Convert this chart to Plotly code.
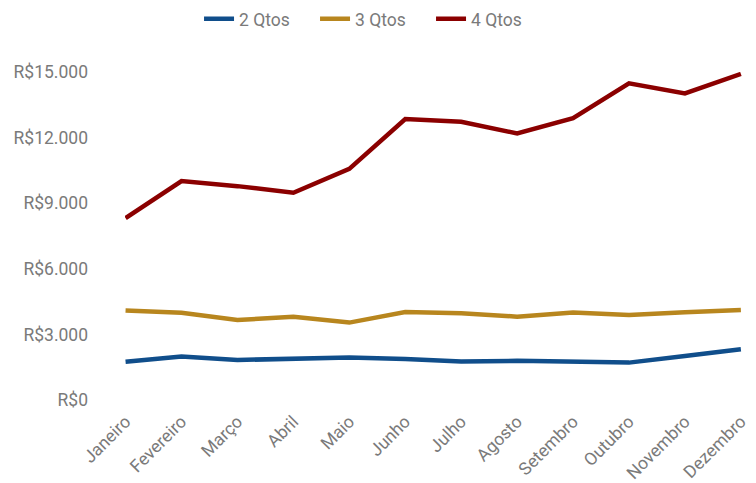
import plotly.graph_objects as go

meses = ["Janeiro", "Fevereiro", "Março", "Abril", "Maio", "Junho", "Julho",
         "Agosto", "Setembro", "Outubro", "Novembro", "Dezembro"]
qtos2 = [1750, 1990, 1830, 1890, 1940, 1870, 1760, 1790, 1760, 1710, 2010, 2320]
qtos3 = [4090, 3990, 3660, 3810, 3540, 4020, 3970, 3810, 4000, 3890, 4010, 4120]
qtos4 = [8320, 10010, 9780, 9480, 10570, 12850, 12720, 12190, 12890, 14480, 14020, 14910]
y_ticks = [0, 3000, 6000, 9000, 12000, 15000]
y_labels = ["R$0", "R$3.000", "R$6.000", "R$9.000", "R$12.000", "R$15.000"]

series = [("2 Qtos", qtos2, "#104E8B"), ("3 Qtos", qtos3, "#B8861E"), ("4 Qtos", qtos4, "#8B0000")]

fig = go.Figure()
for name, vals, color in series:
    fig.add_trace(go.Scatter(x=meses, y=vals, name=name, mode="lines",
                             line=dict(color=color, width=4.5)))

TXT = "#7a7a7a"
fig.update_layout(
    width=756, height=483,
    margin=dict(l=117, r=22, t=64, b=91, autoexpand=False),
    plot_bgcolor="white", paper_bgcolor="white",
    font=dict(family="Roboto", size=17.5, color=TXT),
    showlegend=True,
    legend=dict(orientation="h", x=0.402, xanchor="center", y=1.162, yanchor="middle",
                font=dict(size=17.5, color=TXT),
                itemwidth=30, entrywidth=71, entrywidthmode="pixels"),
    xaxis=dict(type="category", range=[-0.01, 11.02], showgrid=False, zeroline=False,
               showline=False, tickangle=-45, tickfont=dict(size=17.5, color=TXT),
               ticks="", ticklabelstandoff=7, automargin=False),
    yaxis=dict(range=[0, 15000], tickvals=y_ticks, ticktext=y_labels, showgrid=False,
               zeroline=False, showline=False, ticks="", ticklabelstandoff=36,
               tickfont=dict(size=17.5, color=TXT), automargin=False),
)
fig.write_html("out.html")
